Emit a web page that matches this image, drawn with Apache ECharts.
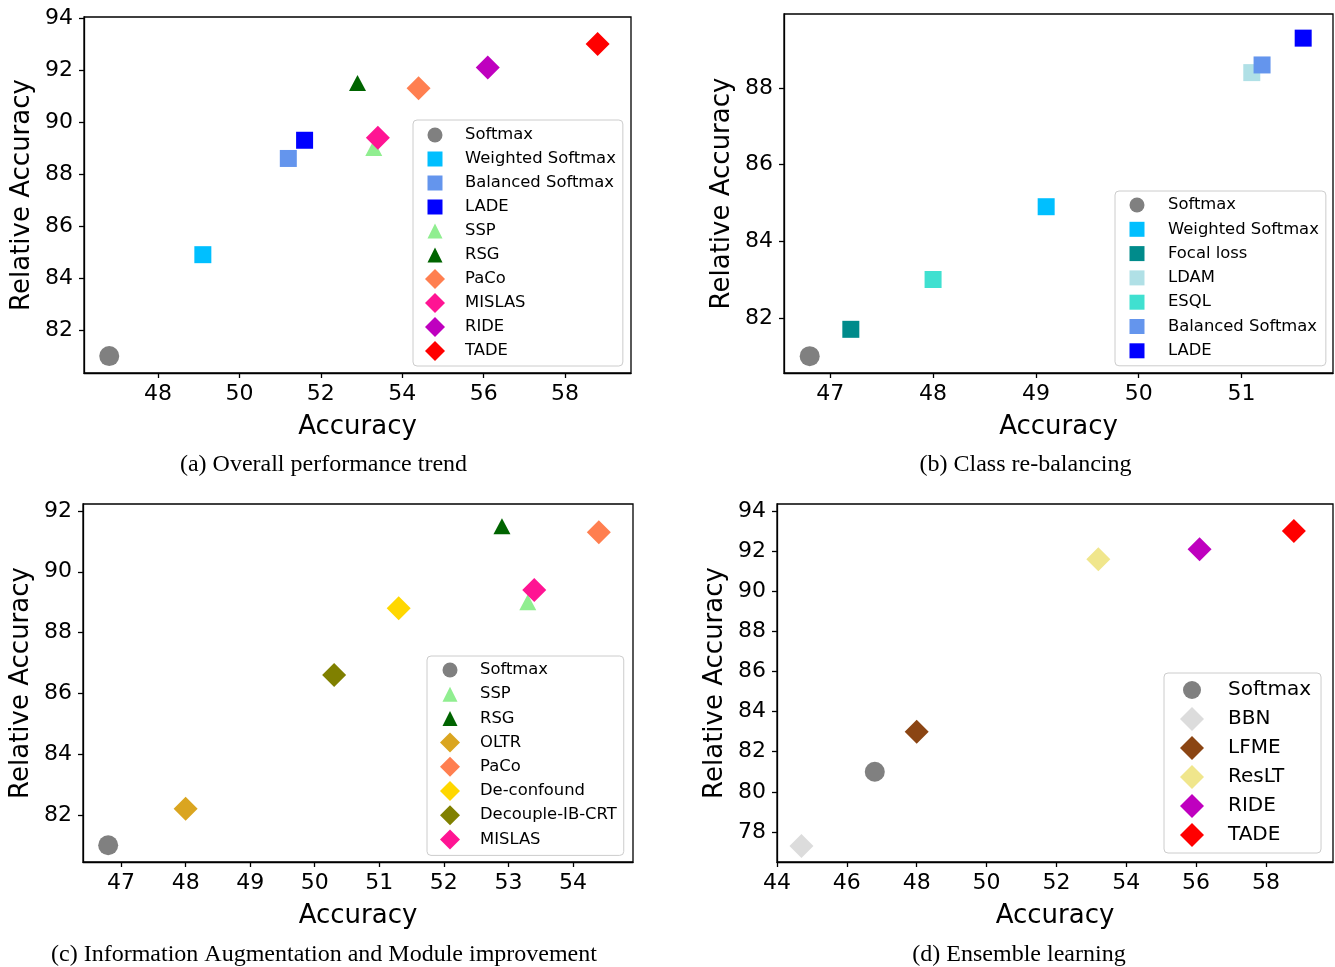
<!DOCTYPE html>
<html><head><meta charset="utf-8">
<script src="https://cdn.jsdelivr.net/npm/echarts@6/dist/echarts.min.js"></script>
<style>html,body{margin:0;padding:0;background:#fff}#c{width:1335px;height:967px}</style>
</head><body><div id="c"></div>
<script>
// ---------- DATA ----------
// (a) Overall performance trend
const aMethods  = ['Softmax','Weighted Softmax','Balanced Softmax','LADE','SSP','RSG','PaCo','MISLAS','RIDE','TADE'];
const aAccuracy = [46.8, 49.1, 51.2, 51.6, 53.3, 52.9, 54.4, 53.4, 56.1, 58.8];
const aRelative = [81.0, 84.9, 88.6, 89.3, 89.0, 91.5, 91.3, 89.4, 92.1, 93.0];
const aXTicks = [48, 50, 52, 54, 56, 58];
const aYTicks = [82, 84, 86, 88, 90, 92, 94];
// (b) Class re-balancing
const bMethods  = ['Softmax','Weighted Softmax','Focal loss','LDAM','ESQL','Balanced Softmax','LADE'];
const bAccuracy = [46.8, 49.1, 47.2, 51.1, 48.0, 51.2, 51.6];
const bRelative = [81.0, 84.9, 81.7, 88.4, 83.0, 88.6, 89.3];
const bXTicks = [47, 48, 49, 50, 51];
const bYTicks = [82, 84, 86, 88];
// (c) Information Augmentation and Module improvement
const cMethods  = ['Softmax','SSP','RSG','OLTR','PaCo','De-confound','Decouple-IB-CRT','MISLAS'];
const cAccuracy = [46.8, 53.3, 52.9, 48.0, 54.4, 51.3, 50.3, 53.4];
const cRelative = [81.0, 89.0, 91.5, 82.2, 91.3, 88.8, 86.6, 89.4];
const cXTicks = [47, 48, 49, 50, 51, 52, 53, 54];
const cYTicks = [82, 84, 86, 88, 90, 92];
// (d) Ensemble learning
const dMethods  = ['Softmax','BBN','LFME','ResLT','RIDE','TADE'];
const dAccuracy = [46.8, 44.7, 48.0, 53.2, 56.1, 58.8];
const dRelative = [81.0, 77.3, 83.0, 91.6, 92.1, 93.0];
const dXTicks = [44, 46, 48, 50, 52, 54, 56, 58];
const dYTicks = [78, 80, 82, 84, 86, 88, 90, 92, 94];

const captions = ['(a) Overall performance trend', '(b) Class re-balancing',
  '(c) Information Augmentation and Module improvement', '(d) Ensemble learning'];
const xTitle = 'Accuracy';
const yTitle = 'Relative Accuracy';

// ---------- STYLES ----------
const methodStyle = {
  'Softmax':          {color:'#808080', shape:'circle'},
  'Weighted Softmax': {color:'#00BFFF', shape:'square'},
  'Balanced Softmax': {color:'#6495ED', shape:'square'},
  'LADE':             {color:'#0000FF', shape:'square'},
  'SSP':              {color:'#90EE90', shape:'triangle'},
  'RSG':              {color:'#006400', shape:'triangle'},
  'PaCo':             {color:'#FF7F50', shape:'diamond'},
  'MISLAS':           {color:'#FF1493', shape:'diamond'},
  'RIDE':             {color:'#BF00BF', shape:'diamond'},
  'TADE':             {color:'#FF0000', shape:'diamond'},
  'Focal loss':       {color:'#008B8B', shape:'square'},
  'LDAM':             {color:'#B0E0E6', shape:'square'},
  'ESQL':             {color:'#40E0D0', shape:'square'},
  'OLTR':             {color:'#DAA520', shape:'diamond'},
  'De-confound':      {color:'#FFD700', shape:'diamond'},
  'Decouple-IB-CRT':  {color:'#808000', shape:'diamond'},
  'BBN':              {color:'#DCDCDC', shape:'diamond'},
  'LFME':             {color:'#8B4513', shape:'diamond'},
  'ResLT':            {color:'#F0E68C', shape:'diamond'}
};
const markerSize = {circle:[20,20], square:[17,17], diamond:[24,24], triangle:[17,16]};

const panels = [
  {methods:aMethods, acc:aAccuracy, rel:aRelative, xt:aXTicks, yt:aYTicks,
   grid:{left:84, top:17, width:547, height:356}, x:[46.18,59.62], y:[80.35,94.04],
   lg:{left:413, top:120, pad:[5,7,5,12], W:35, H:20, gap:4, font:16.4, c:10,
       sz:{circle:15, square:15, diamond:20, triangle:15}}, cap:[323.5,465]},
  {methods:bMethods, acc:bAccuracy, rel:bRelative, xt:bXTicks, yt:bYTicks,
   grid:{left:784, top:14, width:549, height:359}, x:[46.55,51.89], y:[80.56,89.93],
   lg:{left:1115, top:191, pad:[4,7,5,12], W:36, H:20, gap:4.3, font:16.4, c:10,
       sz:{circle:15, square:15, diamond:20, triangle:15}}, cap:[1025.5,465]},
  {methods:cMethods, acc:cAccuracy, rel:cRelative, xt:cXTicks, yt:cYTicks,
   grid:{left:83, top:504, width:550, height:358}, x:[46.41,54.93], y:[80.45,92.23],
   lg:{left:427, top:656, pad:[4,7,6,13], W:35, H:20, gap:4.2, font:16.4, c:10,
       sz:{circle:15, square:15, diamond:20, triangle:15}}, cap:[324,955]},
  {methods:dMethods, acc:dAccuracy, rel:dRelative, xt:dXTicks, yt:dYTicks,
   grid:{left:777, top:504, width:556, height:358}, x:[44.0,59.92], y:[76.5,94.35],
   lg:{left:1164, top:673, pad:[5,10,6,16], W:43, H:24, gap:5, font:20, c:12,
       sz:{circle:18, square:18, diamond:24, triangle:18}}, cap:[1019,955]}
];

function iconPath(shape, W, H, c, s) {
  const cy = H/2, h = s/2;
  let p;
  if (shape === 'circle') p = `M${c-h},${cy}A${h},${h},0,1,1,${c+h},${cy}A${h},${h},0,1,1,${c-h},${cy}Z`;
  else if (shape === 'square') p = `M${c-h},${cy-h}L${c+h},${cy-h}L${c+h},${cy+h}L${c-h},${cy+h}Z`;
  else if (shape === 'diamond') p = `M${c},${cy-h}L${c+h},${cy}L${c},${cy+h}L${c-h},${cy}Z`;
  else p = `M${c},${cy-h}L${c+h},${cy+h}L${c-h},${cy+h}Z`;
  return `path://M0,0M${W},${H}` + p;
}

const FONT = 'DejaVu Sans';
const axisCol = '#000';
const grids = [], xAxes = [], yAxes = [], series = [], legends = [], graphics = [];

panels.forEach((P, i) => {
  grids.push(Object.assign({show:true, borderColor:axisCol, borderWidth:1.3, backgroundColor:'transparent'}, P.grid));
  xAxes.push({type:'value', gridIndex:i, min:P.x[0], max:P.x[1],
    name:xTitle, nameLocation:'middle', nameGap:41,
    nameTextStyle:{fontFamily:FONT, fontSize:26, color:'#000'},
    axisLine:{show:true, onZero:false, lineStyle:{color:axisCol, width:1.3}},
    axisTick:{show:true, inside:false, length:5, customValues:P.xt, lineStyle:{color:axisCol, width:1.3}},
    axisLabel:{customValues:P.xt, fontFamily:FONT, fontSize:22, color:'#000', margin:10},
    splitLine:{show:false}});
  yAxes.push({type:'value', gridIndex:i, min:P.y[0], max:P.y[1],
    name:yTitle, nameLocation:'middle', nameGap:49,
    nameTextStyle:{fontFamily:FONT, fontSize:26, color:'#000'},
    axisLine:{show:true, onZero:false, lineStyle:{color:axisCol, width:1.3}},
    axisTick:{show:true, inside:false, length:5, customValues:P.yt, lineStyle:{color:axisCol, width:1.3}},
    axisLabel:{customValues:P.yt, fontFamily:FONT, fontSize:22, color:'#000', margin:11},
    splitLine:{show:false}});
  P.methods.forEach((m, k) => {
    const st = methodStyle[m];
    series.push({type:'scatter', name:m, xAxisIndex:i, yAxisIndex:i,
      symbol: st.shape === 'square' ? 'rect' : st.shape,
      symbolSize: markerSize[st.shape],
      itemStyle:{color:st.color, opacity:1},
      emphasis:{disabled:true},
      data:[[P.acc[k], P.rel[k]]]});
  });
  const L = P.lg;
  legends.push({orient:'vertical', left:L.left, top:L.top, padding:L.pad,
    itemWidth:L.W, itemHeight:L.H, itemGap:L.gap, selectedMode:false,
    backgroundColor:'rgba(255,255,255,0.8)', borderColor:'#cccccc', borderWidth:1, borderRadius:4,
    textStyle:{fontFamily:FONT, fontSize:L.font, color:'#000'},
    data: P.methods.map(m => ({name:m, icon:iconPath(methodStyle[m].shape, L.W, L.H, L.c, L.sz[methodStyle[m].shape]),
      itemStyle:{color:methodStyle[m].color}}))});
  graphics.push({type:'text', x:P.cap[0], y:P.cap[1],
    style:{text:captions[i], font:'24px "Liberation Serif", "Times New Roman", serif', fill:'#000',
      align:'center', verticalAlign:'middle'}});
});

const chart = echarts.init(document.getElementById('c'), null, {renderer:'canvas'});
chart.setOption({animation:false, backgroundColor:'#fff',
  grid:grids, xAxis:xAxes, yAxis:yAxes, series:series, legend:legends, graphic:graphics});
</script></body></html>
